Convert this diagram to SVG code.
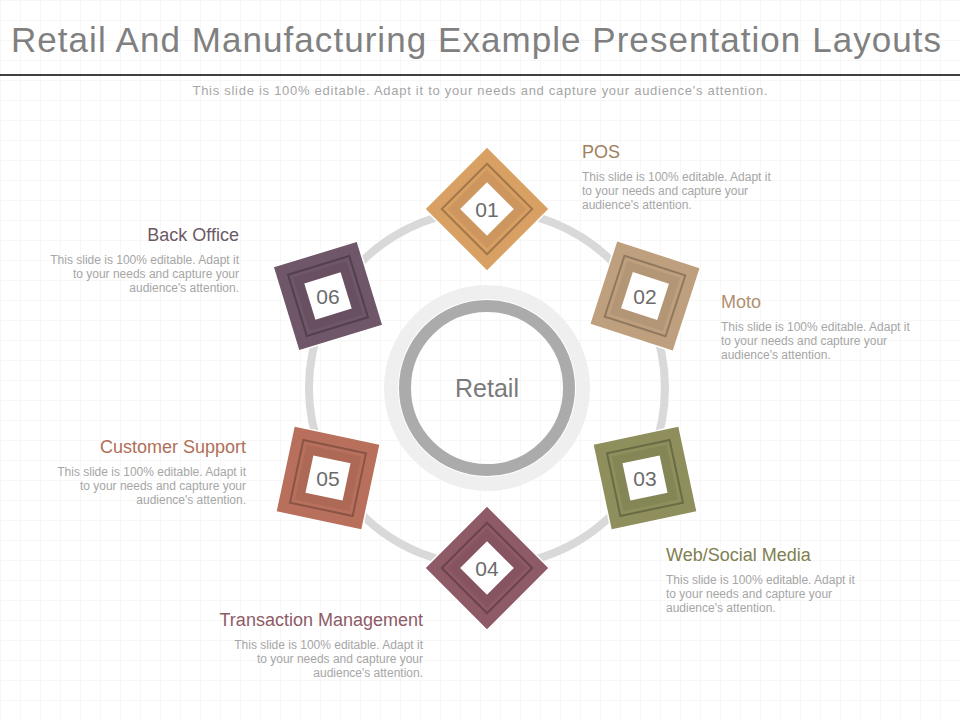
<svg xmlns="http://www.w3.org/2000/svg" width="960" height="720" viewBox="0 0 960 720">
<defs>
<pattern id="grid" width="20" height="20" patternUnits="userSpaceOnUse"><path d="M20 0H0V20" fill="none" stroke="#f0f0f0" stroke-width="1"/></pattern>
<style>
text{font-family:"Liberation Sans",Arial,sans-serif}
.h{font-size:18px}
.d{font-size:12px;fill:#a6a6a6}
.n{font-size:21px;fill:#6b6b6b;text-anchor:middle}
.w{fill:#fff}
.edge{stroke:#fff;stroke-width:1.5}
.in{fill:none;stroke-opacity:.25;stroke:#000;stroke-width:2}
</style>
<g id="sq">
<rect x="-44" y="-44" width="88" height="88" class="edge"/>
<rect x="-32" y="-32" width="64" height="64" class="in"/>
<rect x="-28" y="-28" width="56" height="56" fill="#000" fill-opacity=".06"/>
<rect x="-19" y="-19" width="38" height="38" class="w"/>
</g>
</defs>
<rect width="960" height="720" fill="#fff"/>
<rect width="960" height="720" fill="url(#grid)"/>
<text x="476" y="52" font-size="35" fill="#808080" text-anchor="middle" textLength="930" lengthAdjust="spacing">Retail And Manufacturing Example Presentation Layouts</text>
<line x1="0" y1="75" x2="960" y2="75" stroke="#404040" stroke-width="2"/>
<text x="480" y="95" font-size="13" fill="#a6a6a6" text-anchor="middle" textLength="575" lengthAdjust="spacing">This slide is 100% editable. Adapt it to your needs and capture your audience's attention.</text>
<g id="connectors">
<circle cx="487" cy="388" r="178" fill="none" stroke="#d9d9d9" stroke-width="8"/>
</g>
<g id="center">
<circle cx="487" cy="388" r="96" fill="none" stroke="#efefef" stroke-width="14"/>
<circle cx="487" cy="388" r="82" fill="none" stroke="#ababab" stroke-width="12"/>
<text x="487" y="397" font-size="25" fill="#7a7a7a" text-anchor="middle">Retail</text>
</g>
<g id="n01"><use href="#sq" fill="#d9a064" transform="translate(487,209) rotate(45)"/><text x="487" y="217" class="n">01</text>
<text x="582" y="158" class="h" fill="#a08060">POS</text>
<text class="d"><tspan x="582" y="181">This slide is 100% editable. Adapt it</tspan><tspan x="582" y="195">to your needs and capture your</tspan><tspan x="582" y="209">audience's attention.</tspan></text></g>
<g id="n02"><use href="#sq" fill="#bfa07e" transform="translate(645,296) rotate(18)"/><text x="645" y="304" class="n">02</text>
<text x="721" y="308" class="h" fill="#b09070">Moto</text>
<text class="d"><tspan x="721" y="331">This slide is 100% editable. Adapt it</tspan><tspan x="721" y="345">to your needs and capture your</tspan><tspan x="721" y="359">audience's attention.</tspan></text></g>
<g id="n03"><use href="#sq" fill="#8e8f5c" transform="translate(645,478) rotate(-12)"/><text x="645" y="486" class="n">03</text>
<text x="666" y="561" class="h" fill="#7f8050">Web/Social Media</text>
<text class="d"><tspan x="666" y="584">This slide is 100% editable. Adapt it</tspan><tspan x="666" y="598">to your needs and capture your</tspan><tspan x="666" y="612">audience's attention.</tspan></text></g>
<g id="n04"><use href="#sq" fill="#8e5a66" transform="translate(487,568) rotate(45)"/><text x="487" y="576" class="n">04</text>
<text x="423" y="626" class="h" fill="#8e5a66" text-anchor="end">Transaction Management</text>
<text class="d" text-anchor="end"><tspan x="423" y="649">This slide is 100% editable. Adapt it</tspan><tspan x="423" y="663">to your needs and capture your</tspan><tspan x="423" y="677">audience's attention.</tspan></text></g>
<g id="n05"><use href="#sq" fill="#b8705c" transform="translate(328,478) rotate(12)"/><text x="328" y="486" class="n">05</text>
<text x="246" y="453" class="h" fill="#b06e58" text-anchor="end">Customer Support</text>
<text class="d" text-anchor="end"><tspan x="246" y="476">This slide is 100% editable. Adapt it</tspan><tspan x="246" y="490">to your needs and capture your</tspan><tspan x="246" y="504">audience's attention.</tspan></text></g>
<g id="n06"><use href="#sq" fill="#6f5668" transform="translate(328,296) rotate(-17)"/><text x="328" y="304" class="n">06</text>
<text x="239" y="241" class="h" fill="#6b5a66" text-anchor="end">Back Office</text>
<text class="d" text-anchor="end"><tspan x="239" y="264">This slide is 100% editable. Adapt it</tspan><tspan x="239" y="278">to your needs and capture your</tspan><tspan x="239" y="292">audience's attention.</tspan></text></g>
</svg>
